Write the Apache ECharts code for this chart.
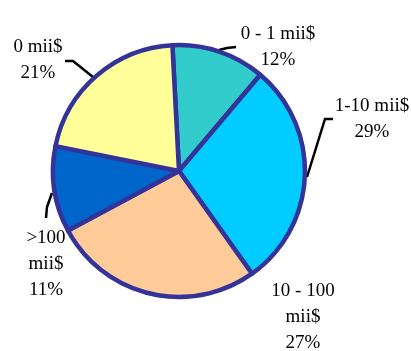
<!DOCTYPE html>
<html lang="en">

<head>
    <meta charset="UTF-8">
    <title>Pie</title>
    <script src="https://cdn.jsdelivr.net/npm/echarts@6/dist/echarts.min.js"></script>
    <style>
        html, body {
            margin: 0;
            padding: 0;
            background: #ffffff;
        }

        .chart {
            width: 411px;
            height: 351px;
        }
    </style>
</head>

<body>
    <div class="chart"></div>

    <script>
        // data
        var categories = ['0 - 1 mii$', '1-10 mii$', '10 - 100\nmii$', '>100\nmii$', '0 mii$'];
        var shares = [12, 29, 27, 11, 21];
        var sliceColors = ['#33cccc', '#00ccff', '#ffcc99', '#0066cc', '#ffff99'];

        // label anchors (top centre of each text block) and leader lines
        var labelPos = [
            [278, 21],
            [372, 93],
            [303, 278],
            [46, 225],
            [38, 34]
        ];
        var leaderLines = [
            [[219, 50], [227, 48], [236, 47]],
            [[307, 177], [325, 119], [333, 119]],
            null,
            [[52, 193], [47, 207], [46, 218]],
            [[93, 77], [73, 61], [65, 61]]
        ];

        var pieData = categories.map(function(name, i) {
            return {
                name: name,
                value: shares[i],
                itemStyle: { color: sliceColors[i] },
                labelLine: { show: !!leaderLines[i] }
            };
        });

        var chart = echarts.init(document.querySelector('.chart'));
        chart.setOption({
            animation: false,
            series: [{
                type: 'pie',
                center: [179, 171],
                radius: 126,
                startAngle: 93,
                clockwise: true,
                avoidLabelOverlap: false,
                data: pieData,
                itemStyle: {
                    borderColor: '#333399',
                    borderWidth: 4.5
                },
                label: {
                    show: true,
                    position: 'outside',
                    formatter: function(p) {
                        return p.name + '\n' + Math.round(p.percent) + '%';
                    },
                    fontFamily: 'Liberation Serif',
                    fontSize: 19,
                    lineHeight: 26,
                    color: '#000000'
                },
                labelLine: {
                    show: true,
                    lineStyle: { color: '#000000', width: 2.5 }
                },
                labelLayout: function(params) {
                    var i = params.dataIndex;
                    var out = {
                        x: labelPos[i][0],
                        y: labelPos[i][1],
                        align: 'center',
                        verticalAlign: 'top'
                    };
                    if (leaderLines[i]) {
                        out.labelLinePoints = leaderLines[i];
                    }
                    return out;
                }
            }]
        });
    </script>
</body>

</html>
